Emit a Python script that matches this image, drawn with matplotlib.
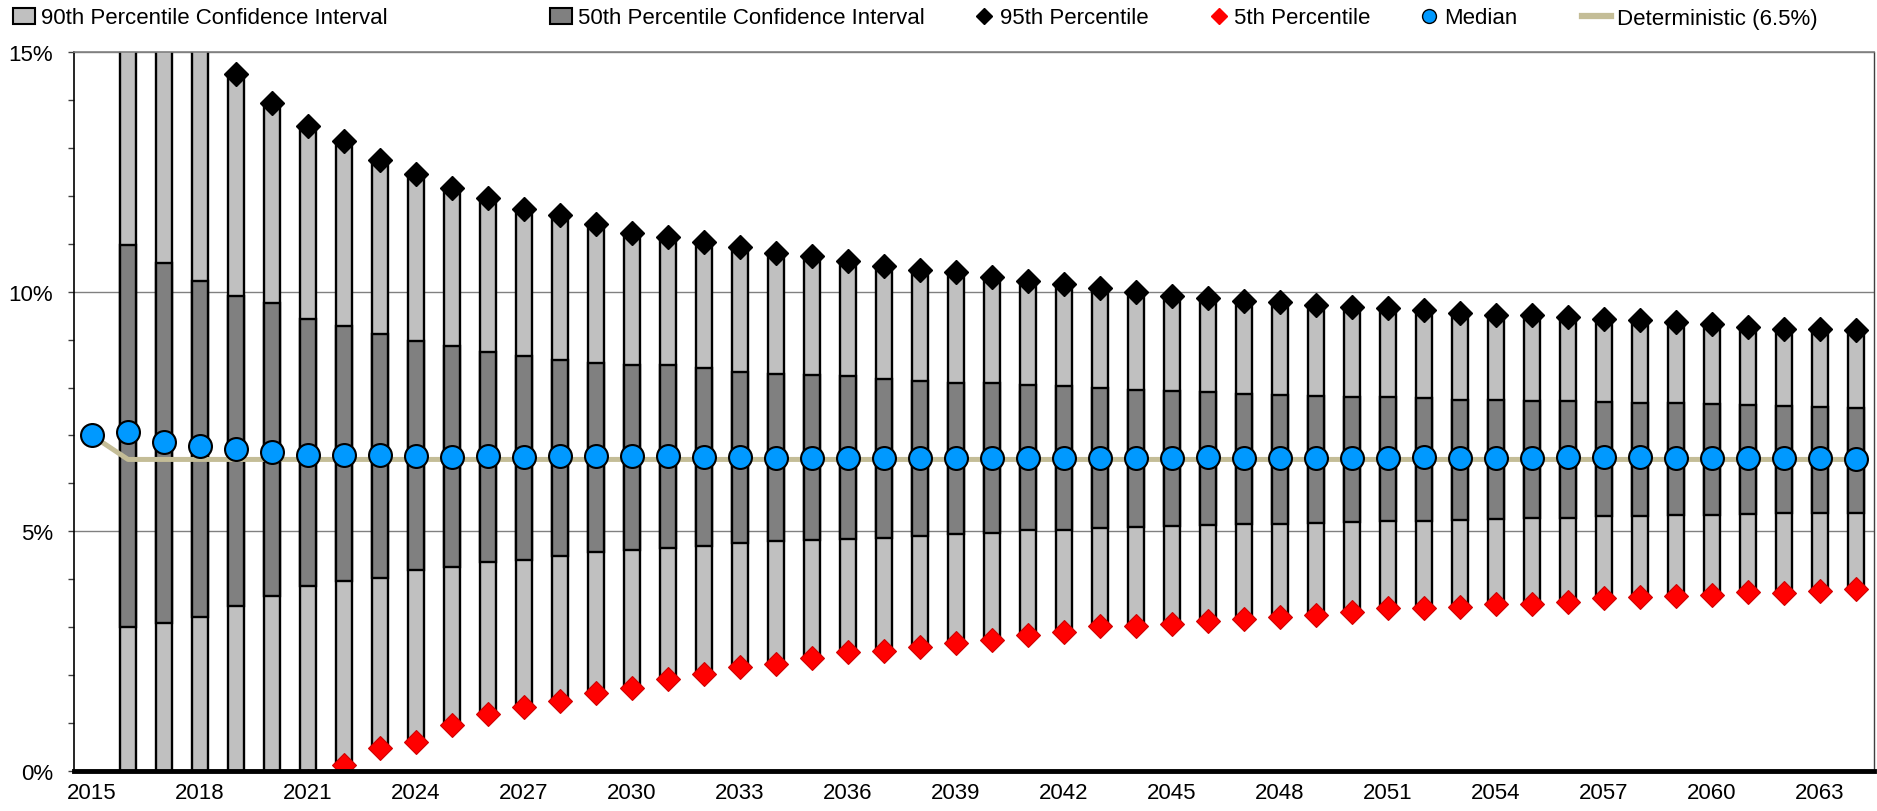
import numpy as np
import matplotlib.pyplot as plt
from matplotlib import font_manager
from matplotlib.patches import Patch
from matplotlib.lines import Line2D

# condensed Arial-like face when present, plain Liberation Sans otherwise
try:
    font_manager.findfont('Liberation Sans Narrow', fallback_to_default=False)
    plt.rcParams['font.family'] = ['Liberation Sans Narrow', 'DejaVu Sans']
    text_size = 20
except ValueError:
    plt.rcParams['font.family'] = ['Liberation Sans', 'DejaVu Sans']
    text_size = 16

# projection years; the percentile bands start one year after the base year
years = list(range(2015, 2065))
band_years = years[1:]

p95 = [17.0, 16.2, 15.4, 14.55, 13.93, 13.45, 13.14, 12.75, 12.45, 12.16,
       11.95, 11.73, 11.60, 11.41, 11.23, 11.15, 11.04, 10.93, 10.81, 10.74,
       10.63, 10.54, 10.46, 10.40, 10.30, 10.22, 10.17, 10.08, 9.99, 9.92,
       9.87, 9.81, 9.78, 9.73, 9.68, 9.66, 9.61, 9.56, 9.52, 9.51,
       9.47, 9.44, 9.40, 9.37, 9.33, 9.27, 9.23, 9.23, 9.19]
p75 = [10.97, 10.60, 10.22, 9.90, 9.76, 9.43, 9.28, 9.12, 8.98, 8.86,
       8.74, 8.66, 8.58, 8.51, 8.48, 8.46, 8.40, 8.32, 8.28, 8.26,
       8.24, 8.17, 8.14, 8.10, 8.09, 8.05, 8.03, 8.00, 7.94, 7.93,
       7.90, 7.87, 7.85, 7.83, 7.81, 7.81, 7.78, 7.75, 7.74, 7.72,
       7.72, 7.69, 7.67, 7.67, 7.65, 7.64, 7.62, 7.60, 7.58]
p25 = [3.00, 3.08, 3.21, 3.44, 3.66, 3.85, 3.96, 4.03, 4.19, 4.25,
       4.35, 4.40, 4.49, 4.56, 4.61, 4.65, 4.69, 4.75, 4.79, 4.82,
       4.83, 4.86, 4.91, 4.94, 4.96, 5.02, 5.03, 5.07, 5.09, 5.12,
       5.13, 5.16, 5.16, 5.17, 5.20, 5.22, 5.22, 5.24, 5.26, 5.28,
       5.28, 5.31, 5.33, 5.34, 5.35, 5.36, 5.38, 5.38, 5.39]
p5 = [-2.6, -2.0, -1.5, -1.0, -0.6, -0.2, 0.12, 0.49, 0.60, 0.95,
      1.18, 1.33, 1.47, 1.63, 1.74, 1.91, 2.03, 2.16, 2.24, 2.36,
      2.49, 2.51, 2.58, 2.66, 2.74, 2.84, 2.90, 3.03, 3.02, 3.06,
      3.13, 3.18, 3.22, 3.26, 3.32, 3.40, 3.40, 3.43, 3.49, 3.49,
      3.53, 3.60, 3.63, 3.65, 3.67, 3.73, 3.72, 3.76, 3.79]
median = [7.02, 7.08, 6.87, 6.78, 6.72, 6.65, 6.60, 6.59, 6.59, 6.57,
          6.56, 6.57, 6.56, 6.58, 6.57, 6.58, 6.58, 6.56, 6.55, 6.53,
          6.53, 6.54, 6.54, 6.53, 6.53, 6.53, 6.52, 6.52, 6.54, 6.53,
          6.54, 6.55, 6.54, 6.53, 6.54, 6.54, 6.54, 6.55, 6.54, 6.53,
          6.54, 6.56, 6.55, 6.56, 6.53, 6.53, 6.53, 6.54, 6.52, 6.51]
deterministic = [7.0] + [6.5] * 49

light = '#C0C0C0'
dark = '#808080'
blue = '#0099FF'
tan = '#C4BD97'

fig = plt.figure(figsize=(18.77, 8.12), dpi=100)
ax = fig.add_axes([74 / 1877, 1 - 772 / 812, 1800 / 1877, 719 / 812])

lo, hi = np.array(p5), np.array(p95)
q1, q3 = np.array(p25), np.array(p75)

ax.bar(band_years, hi - lo, bottom=lo, width=0.42, color=light,
       edgecolor='black', linewidth=1.7, zorder=2)
ax.bar(band_years, q3 - q1, bottom=q1, width=0.42, color=dark,
       edgecolor='black', linewidth=1.7, zorder=2)

ax.plot(years, deterministic, color=tan, linewidth=3.6, zorder=3,
        solid_joinstyle='round')
ax.plot(band_years, p95, 'D', color='black', markersize=12, zorder=4)
ax.plot(band_years, p5, 'D', color='#FF0000', markeredgecolor='#D00000',
        markeredgewidth=0.8, markersize=12, zorder=4)
ax.plot(years, median, 'o', color=blue, markeredgecolor='black',
        markeredgewidth=1.5, markersize=16.5, zorder=5)

ax.set_xlim(2014.5, 2064.5)
ax.set_ylim(0, 15)
ax.set_xticks(years[::3])
ax.set_xticklabels([str(y) for y in years[::3]])
ax.set_yticks([0, 5, 10, 15])
ax.set_yticklabels(['0%', '5%', '10%', '15%'])
ax.set_yticks(np.arange(0, 16, 1), minor=True)
ax.tick_params(axis='x', length=0, pad=8, labelsize=text_size)
ax.tick_params(axis='y', which='both', direction='out', length=4,
               width=1, color='#404040', pad=11, labelsize=text_size)

ax.set_axisbelow(True)
ax.yaxis.grid(True, which='major', color='#808080', linewidth=1)

ax.spines['left'].set_color('black')
ax.spines['left'].set_linewidth(1.2)
ax.spines['bottom'].set_color('black')
ax.spines['bottom'].set_linewidth(3.5)
ax.spines['bottom'].set_zorder(6)
ax.spines['top'].set_color('#808080')
ax.spines['top'].set_linewidth(1.2)
ax.spines['right'].set_color('#404040')
ax.spines['right'].set_linewidth(1)

# legend entries laid out along the top of the figure
entries = [
    (Patch(facecolor=light, edgecolor='black', linewidth=1.5),
     '90th Percentile Confidence Interval', 0.007, 1.0),
    (Patch(facecolor=dark, edgecolor='black', linewidth=1.5),
     '50th Percentile Confidence Interval', 0.293, 1.0),
    (Line2D([], [], marker='D', color='black', linestyle='none', markersize=8),
     '95th Percentile', 0.519, 0.9),
    (Line2D([], [], marker='D', color='#FF0000', linestyle='none', markersize=8),
     '5th Percentile', 0.644, 0.9),
    (Line2D([], [], marker='o', color=blue, markeredgecolor='black',
            linestyle='none', markersize=10),
     'Median', 0.756, 0.9),
    (Line2D([], [], color=tan, linewidth=4.5),
     'Deterministic (6.5%)', 0.843, 1.3),
]
for handle, label, xpos, hlen in entries:
    fig.legend([handle], [label], loc='center left',
               bbox_to_anchor=(xpos, 1 - 19 / 812), frameon=False,
               borderpad=0, borderaxespad=0, handlelength=hlen,
               handletextpad=0.25, fontsize=text_size)

fig.savefig('out.png', dpi=100)
